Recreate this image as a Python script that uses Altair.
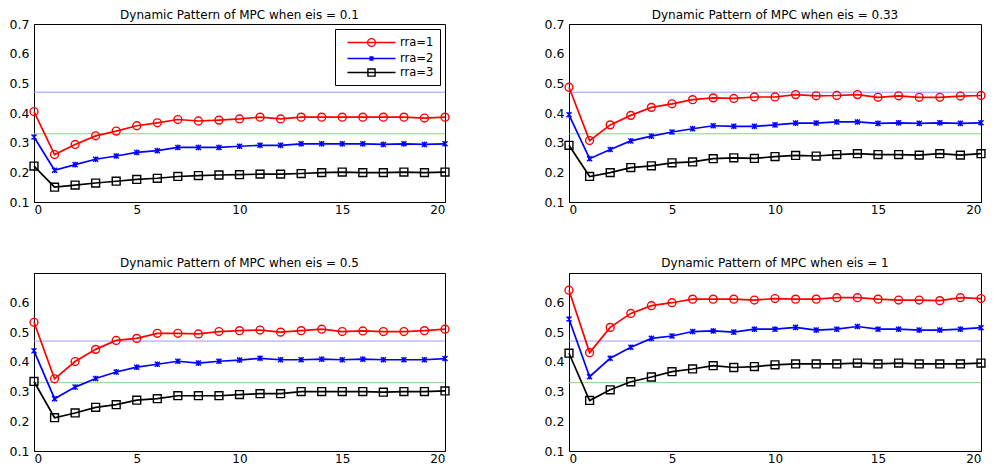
import altair as alt
import pandas as pd

periods = list(range(21))
series_names = ["rra=1", "rra=2", "rra=3"]
series_colors = ["#ff0000", "#0000ff", "#000000"]
eis_keys = ["0.1", "0.33", "0.5", "1"]
ref_levels = [0.47, 0.33]
ref_colors = ["#9a9aff", "#86d486"]
x_ticks = [0, 5, 10, 15, 20]
y_ticks_top = [0.1, 0.2, 0.3, 0.4, 0.5, 0.6, 0.7]
y_ticks_bottom = [0.1, 0.2, 0.3, 0.4, 0.5, 0.6]

mpc_eis01_rra1 = [0.405, 0.260, 0.294, 0.323, 0.339, 0.357, 0.367, 0.378, 0.373, 0.376, 0.380,
                  0.386, 0.380, 0.386, 0.386, 0.386, 0.386, 0.386, 0.386, 0.383, 0.386]
mpc_eis01_rra2 = [0.319, 0.207, 0.226, 0.244, 0.255, 0.267, 0.273, 0.284, 0.284, 0.284, 0.288,
                  0.291, 0.291, 0.296, 0.296, 0.296, 0.296, 0.294, 0.296, 0.294, 0.296]
mpc_eis01_rra3 = [0.221, 0.150, 0.157, 0.164, 0.170, 0.176, 0.180, 0.186, 0.189, 0.191, 0.192,
                  0.194, 0.194, 0.196, 0.199, 0.201, 0.199, 0.199, 0.201, 0.199, 0.201]

mpc_eis033_rra1 = [0.487, 0.307, 0.360, 0.392, 0.419, 0.431, 0.445, 0.451, 0.449, 0.454, 0.454,
                   0.462, 0.458, 0.459, 0.462, 0.453, 0.458, 0.453, 0.453, 0.457, 0.459]
mpc_eis033_rra2 = [0.394, 0.246, 0.277, 0.306, 0.322, 0.336, 0.347, 0.357, 0.355, 0.355, 0.360,
                   0.366, 0.366, 0.370, 0.370, 0.365, 0.367, 0.365, 0.367, 0.365, 0.367]
mpc_eis033_rra3 = [0.291, 0.186, 0.199, 0.216, 0.222, 0.232, 0.235, 0.246, 0.249, 0.247, 0.253,
                   0.257, 0.255, 0.260, 0.263, 0.260, 0.260, 0.258, 0.263, 0.258, 0.263]

mpc_eis05_rra1 = [0.533, 0.343, 0.401, 0.442, 0.472, 0.479, 0.496, 0.496, 0.494, 0.502, 0.505,
                  0.507, 0.500, 0.505, 0.510, 0.502, 0.504, 0.502, 0.502, 0.505, 0.510]
mpc_eis05_rra2 = [0.437, 0.276, 0.315, 0.344, 0.366, 0.382, 0.392, 0.402, 0.396, 0.402, 0.406,
                  0.412, 0.407, 0.407, 0.409, 0.407, 0.409, 0.407, 0.407, 0.407, 0.411]
mpc_eis05_rra3 = [0.334, 0.212, 0.228, 0.247, 0.256, 0.271, 0.276, 0.286, 0.286, 0.286, 0.290,
                  0.293, 0.293, 0.300, 0.300, 0.300, 0.300, 0.298, 0.300, 0.300, 0.302]

mpc_eis1_rra1 = [0.641, 0.431, 0.516, 0.563, 0.589, 0.599, 0.611, 0.611, 0.611, 0.608, 0.613,
                 0.611, 0.611, 0.616, 0.616, 0.611, 0.608, 0.608, 0.606, 0.616, 0.613]
mpc_eis1_rra2 = [0.544, 0.350, 0.412, 0.449, 0.479, 0.487, 0.502, 0.504, 0.500, 0.510, 0.510,
                 0.516, 0.507, 0.510, 0.519, 0.510, 0.510, 0.507, 0.507, 0.510, 0.515]
mpc_eis1_rra3 = [0.429, 0.270, 0.306, 0.333, 0.349, 0.367, 0.376, 0.387, 0.381, 0.384, 0.390,
                 0.393, 0.393, 0.393, 0.396, 0.393, 0.396, 0.393, 0.393, 0.393, 0.396]

panel_series = {
    "0.1": [mpc_eis01_rra1, mpc_eis01_rra2, mpc_eis01_rra3],
    "0.33": [mpc_eis033_rra1, mpc_eis033_rra2, mpc_eis033_rra3],
    "0.5": [mpc_eis05_rra1, mpc_eis05_rra2, mpc_eis05_rra3],
    "1": [mpc_eis1_rra1, mpc_eis1_rra2, mpc_eis1_rra3],
}

rows = []
for key in eis_keys:
    for name, vals in zip(series_names, panel_series[key]):
        for p, v in zip(periods, vals):
            rows.append({"eis": key, "series": name, "period": p, "mpc": v})
df = pd.DataFrame(rows)
ref_df = pd.DataFrame({"level": ref_levels})

FONT = "DejaVu Sans"
plot_shapes = ["circle", "M-0.75,-0.75L0.75,0.75M-0.75,0.75L0.75,-0.75M0,-0.85L0,0.85", "square"]
plot_sizes = [62, 45, 62]
legend_shapes = [
    "M-3.7,0L3.7,0M-0.6,0A0.6,0.6 0 1,1 0.6,0A0.6,0.6 0 1,1 -0.6,0",
    "M-3.7,0L3.7,0M-0.3,-0.3L0.3,0.3M-0.3,0.3L0.3,-0.3M0,-0.35L0,0.35",
    "M-3.7,0L3.7,0M-0.55,-0.55L0.55,-0.55L0.55,0.55L-0.55,0.55Z",
]


def panel(key, width, y_top, y_ticks, with_legend, title_offset):
    x = alt.X("period:Q", scale=alt.Scale(domain=[0, 20], nice=False),
              axis=alt.Axis(values=x_ticks, title=None, format="d"))
    y_scale = alt.Scale(domain=[0.1, y_top], nice=False, zero=False)
    y_axis = alt.Axis(values=y_ticks, title=None, format=".1f")
    base = alt.Chart(df[df.eis == key])
    layers = []
    for lvl, col in zip(ref_levels, ref_colors):
        layers.append(
            alt.Chart(ref_df[ref_df.level == lvl]).mark_rule(strokeWidth=1, color=col).encode(
                y=alt.Y("level:Q", scale=y_scale, axis=y_axis)
            )
        )
    for name, col, shp, sz in zip(series_names, series_colors, plot_shapes, plot_sizes):
        sub = base.transform_filter(alt.datum.series == name)
        layers.append(
            sub.mark_line(strokeWidth=1.7, color=col).encode(
                x=x, y=alt.Y("mpc:Q", scale=y_scale, axis=y_axis))
        )
        layers.append(
            sub.mark_point(filled=False, strokeWidth=1.4, size=sz, opacity=1, color=col, shape=shp
                           ).encode(x=x, y=alt.Y("mpc:Q", scale=y_scale, axis=y_axis))
        )
    if with_legend:
        leg = alt.Legend(title=None, orient="top-right", offset=5, strokeColor="black",
                         fillColor="white", padding=6, symbolSize=169, symbolStrokeWidth=1.4,
                         labelFont=FONT, labelFontSize=11.5, labelColor="black", rowPadding=1,
                         symbolOffset=23, labelOffset=21)
        layers.append(
            base.transform_filter("false").mark_point(filled=False, strokeWidth=1.4, opacity=1).encode(
                x=x, y=alt.Y("mpc:Q", scale=y_scale, axis=y_axis),
                stroke=alt.Stroke("series:N", scale=alt.Scale(domain=series_names, range=series_colors), legend=leg),
                shape=alt.Shape("series:N", scale=alt.Scale(domain=series_names, range=legend_shapes), legend=leg),
            )
        )
    return alt.layer(*layers).properties(
        width=width, height=178,
        title=alt.TitleParams(f"Dynamic Pattern of MPC when eis = {key}", font=FONT, fontSize=12,
                              fontWeight="normal", color="black", offset=title_offset),
    )


p1 = panel("0.1", 411, 0.7, y_ticks_top, True, -4)
p2 = panel("0.33", 412, 0.7, y_ticks_top, False, -4)
p3 = panel("0.5", 411, 0.699, y_ticks_bottom, False, 3)
p4 = panel("1", 412, 0.699, y_ticks_bottom, False, 3)

top_row = alt.hconcat(p1, p2, spacing=90).resolve_scale(
    stroke="independent", shape="independent").resolve_legend(stroke="independent", shape="independent")
bottom_row = alt.hconcat(p3, p4, spacing=90)

chart = alt.vconcat(top_row, bottom_row, spacing=40).resolve_scale(
    stroke="independent", shape="independent").resolve_legend(
    stroke="independent", shape="independent").properties(padding=0).configure_view(
    stroke="black", strokeWidth=1).configure_axis(
    grid=False, ticks=False, labelPadding=5, labelFont=FONT, labelFontSize=12.5,
    labelColor="black", domainColor="black", domainWidth=1,
).configure_axisX(labelPadding=2, labelFontSize=12)

chart.save("out.html", embed_options={"renderer": "svg", "actions": False})
